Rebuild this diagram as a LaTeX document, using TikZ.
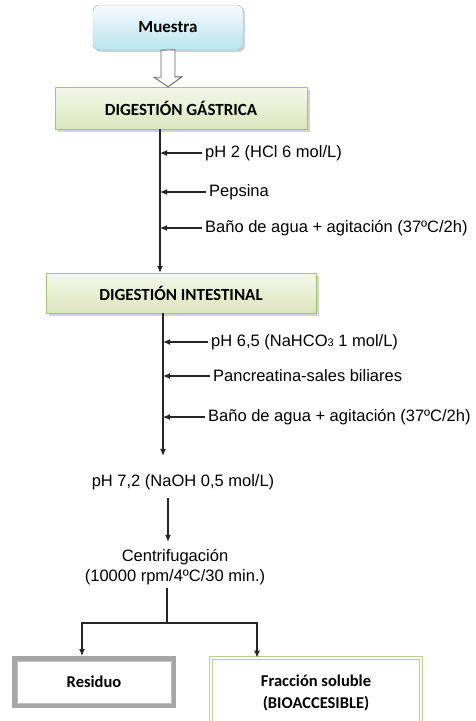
\documentclass[tikz,border=0pt]{standalone}
\usepackage{fontspec}
\setmainfont{Liberation Sans}
\newfontfamily\boxfont{Carlito}
\usetikzlibrary{shadows,arrows.meta}

\definecolor{blueTop}{HTML}{F5FBFD}
\definecolor{blueBottom}{HTML}{B9E4EF}
\definecolor{blueLine}{HTML}{93B9C9}
\definecolor{greenTop}{HTML}{F4F8EA}
\definecolor{greenBottom}{HTML}{DCE6BD}
\definecolor{greenLine}{HTML}{A7C26E}
\definecolor{softGreen}{HTML}{B8D08A}
\definecolor{residueGray}{HTML}{A6A6A6}

\begin{document}
\begin{tikzpicture}[x=1pt, y=-1pt, >={Latex[length=7pt,width=6pt]},
    every node/.style = {font=\fontsize{16.5}{19.5}\selectfont},
    startbox/.style = {draw=blueLine, rounded corners=6pt,
      minimum width=150, minimum height=45,
      top color=blueTop, bottom color=blueBottom,
      drop shadow={shadow xshift=2pt, shadow yshift=-2pt, opacity=.35},
      font=\boxfont\bfseries\fontsize{17}{20}\selectfont},
    stage/.style = {draw=greenLine, minimum width=252, minimum height=42,
      top color=greenTop, bottom color=greenBottom,
      drop shadow={shadow xshift=2.5pt, shadow yshift=-2.5pt, opacity=.35},
      font=\boxfont\bfseries\fontsize{17}{20}\selectfont},
    addition/.style = {anchor=west, inner xsep=3pt},
    flow/.style = {draw=black!85, line width=1.1pt, ->},
    hollow/.style = {draw=black!60, line width=.9pt, fill=white},
    residue/.style = {draw=residueGray, line width=5pt,
      minimum width=159, minimum height=47,
      font=\boxfont\bfseries\fontsize{16.5}{20}\selectfont},
    soluble/.style = {draw=softGreen, line width=.9pt, double=white,
      double distance=2pt, minimum width=210, minimum height=70, align=center,
      font=\boxfont\bfseries\fontsize{16.5}{22}\selectfont}]
  \path[use as bounding box] (0,0) rectangle (475,721);
  \clip (0,0) rectangle (475,721);

  % main boxes
  \node[startbox] (muestra) at (168,27.5) {Muestra};
  \node[stage] (gastric) at (181,108) {DIGESTIÓN GÁSTRICA};
  \node[stage, minimum width=270, minimum height=40] (intestinal) at (181,293) {DIGESTIÓN INTESTINAL};

  % hollow arrow
  \draw[hollow] ([xshift=-7]muestra.south) -- ++(0,27) -- ++(-7,0)
    -- (gastric.north -| muestra.south) -- ++(14,-10) -- ++(-7,0)
    -- ++(0,-27) -- cycle;

  \coordinate (gx) at (160,0);
  \coordinate (ix) at (163,0);

  % gastric step
  \draw[flow] (gastric.south -| gx) -- (intestinal.north -| gx);
  \node[addition] (ph2) at (202,153) {pH 2 (HCl 6 mol/L)};
  \node[addition] (pepsina) at (206,192) {Pepsina};
  \node[addition] (bath1) at (202,228) {Baño de agua + agitación (37ºC/2h)};
  \foreach \n in {ph2,pepsina,bath1}
    \draw[flow] (\n.west) -- (\n.west -| gx);

  % intestinal step
  \node[addition] (ph65) at (208,342) {pH 6,5 (NaHCO{\fontsize{11}{12}\selectfont 3} 1 mol/L)};
  \node[addition] (pancreatina) at (210,376) {Pancreatina-sales biliares};
  \node[addition] (bath2) at (205,417) {Baño de agua + agitación (37ºC/2h)};
  \foreach \n in {ph65,pancreatina,bath2}
    \draw[flow] (\n.west) -- (\n.west -| ix);

  \node (ph72) at (183,482) {pH 7,2 (NaOH 0,5 mol/L)};
  \draw[flow, shorten >=15pt] (intestinal.south -| ix) -- (ph72.north -| ix);

  \node[align=center] (centri) at (175,567) {Centrifugación\\(10000 rpm/4ºC/30 min.)};
  \draw[flow, shorten <=5pt, shorten >=4pt] ([xshift=-15]ph72.south) -- (centri.north -| 168,0);

  % split
  \node[residue] (residuo) at (94,682) {Residuo};
  \draw[residueGray!70, line width=1pt] ([shift={(5,5)}]residuo.north west)
    rectangle ([shift={(-5,-5)}]residuo.south east);
  \node[soluble] (fraccion) at (316,693) {Fracción soluble\\(BIOACCESIBLE)};

  \coordinate (split) at (167,623);
  \draw[draw=black!85, line width=1.1pt] (centri.south -| split) -- (split);
  \draw[flow] (split) -| ([xshift=-12]residuo.north);
  \draw[flow] (split) -| ([xshift=-59]fraccion.north);
\end{tikzpicture}
\end{document}
